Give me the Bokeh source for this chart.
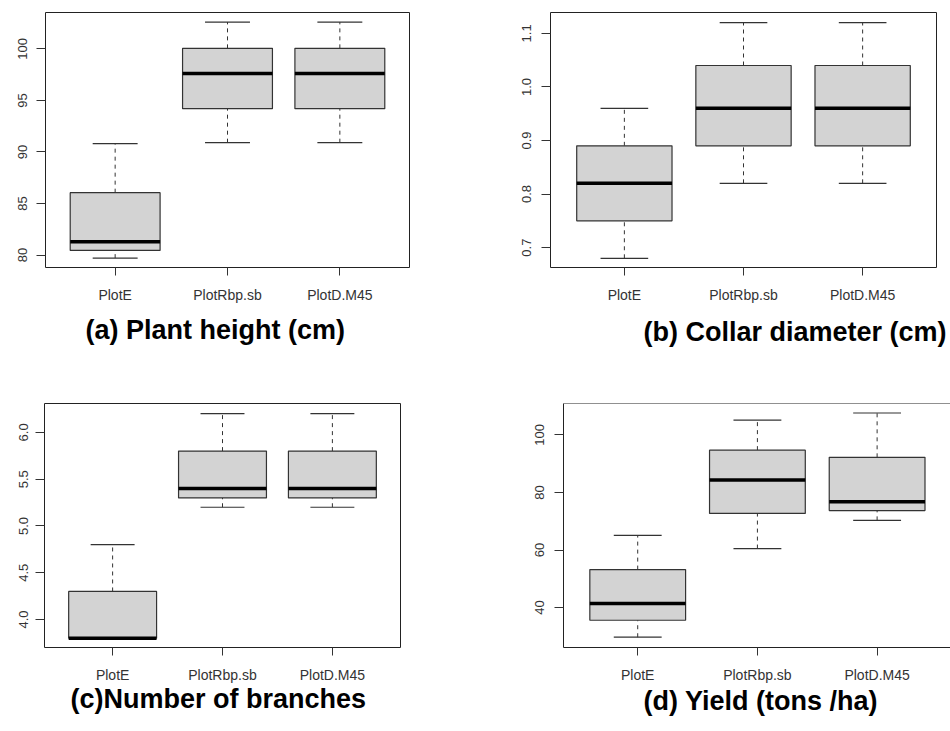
from bokeh.plotting import figure
from bokeh.models import FixedTicker, Range1d, Title, NumeralTickFormatter, Span, ColumnDataSource
from bokeh.layouts import column, row
from bokeh.embed import file_html
from bokeh.resources import INLINE

categories = ["PlotE", "PlotRbp.sb", "PlotD.M45"]

# (a) Plant height (cm)
height_low = [79.7, 90.9, 90.9]
height_q1 = [80.45, 94.2, 94.2]
height_med = [81.3, 97.6, 97.6]
height_q3 = [86.05, 100.05, 100.05]
height_high = [90.8, 102.6, 102.6]
height_ticks = [80, 85, 90, 95, 100]

# (b) Collar diameter (cm)
collar_low = [0.68, 0.82, 0.82]
collar_q1 = [0.75, 0.89, 0.89]
collar_med = [0.82, 0.96, 0.96]
collar_q3 = [0.89, 1.04, 1.04]
collar_high = [0.96, 1.12, 1.12]
collar_ticks = [0.7, 0.8, 0.9, 1.0, 1.1]

# (c) Number of branches
branch_low = [3.8, 5.2, 5.2]
branch_q1 = [3.8, 5.3, 5.3]
branch_med = [3.8, 5.4, 5.4]
branch_q3 = [4.3, 5.8, 5.8]
branch_high = [4.8, 6.2, 6.2]
branch_ticks = [4.0, 4.5, 5.0, 5.5, 6.0]

# (d) Yield (tons /ha)
yield_low = [29.7, 60.5, 70.3]
yield_q1 = [35.6, 72.7, 73.7]
yield_med = [41.4, 84.3, 76.8]
yield_q3 = [53.2, 94.7, 92.2]
yield_high = [65.1, 105.1, 107.6]
yield_ticks = [40, 60, 80, 100]

FONT = "Liberation Sans"
BOX_W = 0.8
CAP_W = 0.4


def panel(title, low, q1, med, q3, high, ticks, yr, xr_end, width, height,
          bl, bt, br, bb, t_offset, t_standoff, y_standoff, fmt=None, outline=True):
    xs = [i + 1 for i in range(len(categories))]
    src = ColumnDataSource(dict(
        x=xs, low=low, q1=q1, med=med, q3=q3, high=high,
        bl=[x - BOX_W / 2 for x in xs], br=[x + BOX_W / 2 for x in xs],
        cl=[x - CAP_W / 2 for x in xs], cr=[x + CAP_W / 2 for x in xs],
    ))
    p = figure(width=width, height=height, output_backend="svg", toolbar_location=None,
               x_range=Range1d(0.38, xr_end), y_range=Range1d(*yr),
               min_border_left=bl, min_border_top=bt, min_border_right=br, min_border_bottom=bb,
               background_fill_color="white", border_fill_color="white")
    p.xgrid.visible = False
    p.ygrid.visible = False
    if outline:
        p.outline_line_color = "#222222"
        p.outline_line_width = 1
        p.axis.axis_line_color = None
    else:
        p.outline_line_color = None
        p.axis.axis_line_color = "#222222"
        p.add_layout(Span(location=yr[1], dimension="width", line_color="#222222", line_width=1))

    # whiskers
    p.segment(x0="x", x1="x", y0="q3", y1="high", source=src, line_color="#333333",
              line_width=1, line_dash="4 4")
    p.segment(x0="x", x1="x", y0="low", y1="q1", source=src, line_color="#333333",
              line_width=1, line_dash="4 4")
    # caps
    p.segment(x0="cl", x1="cr", y0="high", y1="high", source=src, line_color="#333333", line_width=1.2)
    p.segment(x0="cl", x1="cr", y0="low", y1="low", source=src, line_color="#333333", line_width=1.2)
    # boxes
    p.quad(left="bl", right="br", bottom="q1", top="q3", source=src,
           fill_color="#D3D3D3", line_color="#333333", line_width=1.2)
    # medians
    p.segment(x0="bl", x1="br", y0="med", y1="med", source=src, line_color="black", line_width=3.5)

    p.xaxis.ticker = FixedTicker(ticks=xs)
    p.xaxis.major_label_overrides = {x: c for x, c in zip(xs, categories)}
    p.xaxis.major_tick_out = 8
    p.xaxis.major_label_standoff = 11
    p.yaxis.ticker = FixedTicker(ticks=ticks)
    p.yaxis.major_tick_out = 9
    p.yaxis.major_label_standoff = y_standoff
    p.yaxis.major_label_orientation = "vertical"
    p.xaxis.major_label_text_font_size = "14px"
    p.yaxis.major_label_text_font_size = "13px"
    if fmt:
        p.yaxis.formatter = NumeralTickFormatter(format=fmt)
    for ax in (p.xaxis, p.yaxis):
        ax.major_tick_in = 0
        ax.minor_tick_line_color = None
        ax.major_tick_line_color = "#333333"
        ax.major_label_text_font = FONT
        ax.major_label_text_color = "#333333"

    t = Title(text=title, align="left", offset=t_offset, standoff=t_standoff,
              vertical_align="top", text_font=FONT, text_font_size="27px",
              text_font_style="bold", text_color="black")
    p.add_layout(t, "below")
    return p


pa = panel("(a) Plant height (cm)", height_low, height_q1, height_med, height_q3, height_high,
           height_ticks, (78.79, 103.53), 3.62, 478, 373, 45, 12, 69, 104, 40, 18, 9)
pb = panel("(b) Collar diameter (cm)", collar_low, collar_q1, collar_med, collar_q3, collar_high,
           collar_ticks, (0.6628, 1.139), 3.62, 472, 373, 72, 7, 14, 106, 93, 22, 10, fmt="0.0")
pc = panel("(c)Number of branches", branch_low, branch_q1, branch_med, branch_q3, branch_high,
           branch_ticks, (3.701, 6.309), 3.62, 478, 358, 44, 30, 78, 81, 26, -4, 7, fmt="0.0")
pd_ = panel("(d) Yield (tons /ha)", yield_low, yield_q1, yield_med, yield_q3, yield_high,
            yield_ticks, (26.13, 110.9), 0.38 + 387 / 119.7, 472, 358, 85, 7, 0, 84, 80, 0, 10,
            outline=False)

layout = column(row(pa, pb, spacing=0), row(pc, pd_, spacing=0), spacing=0)

open("out.html", "w").write(file_html(layout, INLINE))
